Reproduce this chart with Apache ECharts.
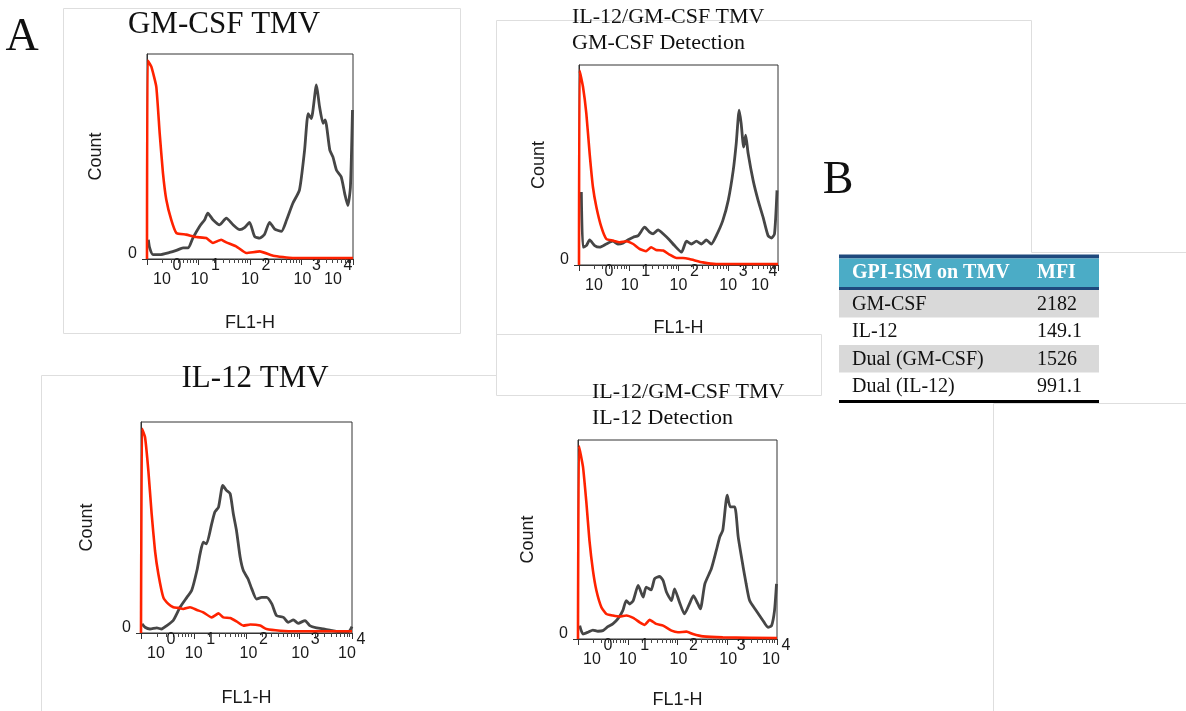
<!DOCTYPE html>
<html>
<head>
<meta charset="utf-8">
<script src="https://cdn.jsdelivr.net/npm/echarts@6/dist/echarts.min.js"></script>
<style>
html, body { margin: 0; padding: 0; background: #fff; }
#chart { width: 1186px; height: 711px; }
</style>
</head>
<body>
<div id="chart"></div>
<script>
// x = FL1-H in decades (log10), y = count as % of plot height
const gmCsfRed = [[0,0],[0.013,96.8],[0.084,93.8],[0.18,84.1],[0.246,61.4],[0.31,41.9],[0.375,28.9],[0.47,19.2],[0.57,12.7],[0.76,11.9],[0.96,10.7],[1.15,10.2],[1.28,7.8],[1.44,9.4],[1.54,8.1],[1.73,6.2],[1.93,2.9],[2.19,3.7],[2.45,1.6],[2.83,0.5],[4,0.5]]
const gmCsfGray = [[0.026,9.4],[0.052,5.4],[0.117,2.1],[0.246,2.1],[0.44,3.2],[0.57,4.2],[0.7,5.4],[0.8,5.4],[0.89,10.2],[1.02,15.9],[1.12,19.2],[1.18,22.4],[1.28,19.2],[1.41,16.7],[1.54,19.9],[1.67,16.7],[1.8,14.3],[1.9,15.4],[1.99,17.9],[2.09,11],[2.19,10.2],[2.28,11.9],[2.38,17.9],[2.48,14.6],[2.61,13.5],[2.71,19],[2.83,27.1],[2.96,33.6],[3.06,53.1],[3.13,70.9],[3.19,68.5],[3.29,84.9],[3.35,74.4],[3.42,66.2],[3.46,67.9],[3.55,53.1],[3.61,49.8],[3.68,43.3],[3.77,40.1],[3.84,31.8],[3.9,26.1],[3.95,35.1],[3.99,72.7]]

const dualGmRed = [[0,0],[0.013,97.2],[0.08,89.1],[0.147,75.8],[0.214,55.7],[0.28,39],[0.35,28.9],[0.45,18.9],[0.55,13],[0.68,12.2],[0.82,11.4],[0.95,11.9],[1.09,10.5],[1.22,8],[1.35,6.9],[1.45,8.9],[1.55,7.5],[1.69,7.2],[1.82,5.2],[1.96,3.5],[2.09,3.5],[2.22,3],[2.49,1.3],[2.76,0.5],[4,0.5]]
const dualGmGray = [[0.047,36.5],[0.08,8.9],[0.147,9.7],[0.214,12.5],[0.315,9.7],[0.415,8.9],[0.55,10.5],[0.68,11.9],[0.78,10.5],[0.88,10.9],[0.98,12.5],[1.09,13.9],[1.19,14.7],[1.32,18.9],[1.42,16.4],[1.49,15.6],[1.59,17.6],[1.69,15.6],[1.82,12.5],[1.92,9.7],[2.06,6.4],[2.16,11.9],[2.26,10.5],[2.36,11.9],[2.46,10.5],[2.56,12.5],[2.66,10.5],[2.76,14.7],[2.89,22.2],[3,32.3],[3.1,47.3],[3.16,60.7],[3.22,77.4],[3.26,70.7],[3.31,59],[3.35,64.9],[3.4,55.7],[3.5,42.3],[3.6,32.3],[3.7,23.9],[3.8,14.7],[3.87,13.5],[3.93,15.6],[3.98,37.3]]

const il12Red = [[0,0],[0.02,96.8],[0.076,92.9],[0.139,77.1],[0.202,56.5],[0.265,39.1],[0.329,28],[0.423,16.9],[0.518,13.8],[0.613,12.2],[0.708,11.9],[0.8,11.4],[0.93,12.2],[1.06,10.9],[1.18,9.8],[1.34,7.4],[1.47,9.3],[1.56,7.4],[1.69,7.1],[1.81,5.5],[1.94,3.5],[2.07,4],[2.26,3.5],[2.38,1.9],[2.64,1.1],[2.95,0.8],[4,0.8]]
const il12Gray = [[0.02,4.3],[0.076,2.7],[0.17,1.9],[0.3,2.4],[0.39,1.9],[0.49,3.5],[0.61,5.9],[0.74,12.2],[0.87,16.9],[0.96,20.1],[1.06,29.6],[1.12,37.5],[1.18,43],[1.24,42.2],[1.34,51.7],[1.4,57.3],[1.47,59.7],[1.55,69.9],[1.62,67.6],[1.69,66],[1.75,56.5],[1.81,48.6],[1.88,35.9],[1.94,29.6],[2.03,25.6],[2.1,20.9],[2.19,16.1],[2.29,16.9],[2.38,16.9],[2.48,13.8],[2.57,8.2],[2.7,7.4],[2.79,5.1],[2.89,6.2],[2.98,4.6],[3.11,5.9],[3.2,3.5],[3.33,2.4],[3.46,1.9],[3.58,1.4],[3.77,0.6],[3.93,0.6],[4,3]]

const dualIl12Red = [[0,0],[0.02,97],[0.1,86.6],[0.17,68.1],[0.23,49.6],[0.3,34.5],[0.37,24.4],[0.47,16],[0.57,12.6],[0.7,11.8],[0.84,11.3],[0.97,11.8],[1.11,10.6],[1.24,8.4],[1.34,7.1],[1.44,9.6],[1.57,7.6],[1.71,6.7],[1.88,4.2],[2.01,3.4],[2.18,3.7],[2.31,2.5],[2.51,1.3],[2.91,0.8],[4,0.5]]
const dualIl12Gray = [[0.034,6.7],[0.1,2.5],[0.2,3.4],[0.3,4.5],[0.4,3.9],[0.5,4.2],[0.6,6.2],[0.7,7.6],[0.8,10.1],[0.9,14.3],[0.97,19.3],[1.04,17.6],[1.11,19.3],[1.21,26.9],[1.31,21],[1.37,26.1],[1.47,24.7],[1.54,30.3],[1.64,31.4],[1.71,29.4],[1.78,23.5],[1.88,19.3],[1.94,25.2],[2.04,18.5],[2.14,12.6],[2.24,17.6],[2.32,21.8],[2.41,17.6],[2.46,15.1],[2.55,27.7],[2.68,35.3],[2.78,44.5],[2.85,51.3],[2.91,54.6],[3,72.3],[3.06,66.4],[3.15,66.4],[3.22,51.3],[3.32,36.1],[3.38,27.7],[3.45,19.3],[3.58,14.3],[3.72,9.2],[3.82,5.9],[3.89,6.7],[3.95,14.3],[3.99,27.7]]

// axis ticks: decades of FL1-H
const decades = [0, 1, 2, 3, 4]
const minorTicks = []
for (let d = 0; d < 4; d++) {
  for (let k = 2; k <= 9; k++) minorTicks.push(d + Math.log10(k))
}

// table B
const tableHeader = ['GPI-ISM on TMV', 'MFI']
const tableRows = ['GM-CSF', 'IL-12', 'Dual (GM-CSF)', 'Dual (IL-12)']
const mfiValues = [2182, 149.1, 1526, 991.1]

const SANS = '"Liberation Sans", Arial, sans-serif'
const SERIF = '"Liberation Serif", "Times New Roman", serif'
const INK = '#1a1a1a'

// bOff / eOff: horizontal shift (px) of the "10" and of the exponent from each decade tick
const panels = [
  { grid: { left: 147, top: 54, width: 206, height: 205 }, gray: gmCsfGray, red: gmCsfRed,
    countGap: 42, flGap: 55, lastRight: true, bOff: [15, 1, 0, 1, -20], eOff: [30, 17, 16, 15, -5] },
  { grid: { left: 579, top: 65, width: 199, height: 200 }, gray: dualGmGray, red: dualGmRed,
    countGap: 31, flGap: 54, lastRight: true, bOff: [15, 1, 0, 0, -18], eOff: [30, 17, 16, 15, -5] },
  { grid: { left: 141, top: 422, width: 211, height: 211 }, gray: il12Gray, red: il12Red,
    countGap: 45, flGap: 56, lastRight: false, bOff: [15, 0, 2, 1, -5], eOff: [30, 17, 17, 16, 9] },
  { grid: { left: 578, top: 440, width: 199, height: 199 }, gray: dualIl12Gray, red: dualIl12Red,
    countGap: 41, flGap: 52, lastRight: false, bOff: [14, 0, 1, 1, -6], eOff: [30, 17, 16, 14, 9] }
]

function centerPad(off) {
  return off >= 0 ? [0, 0, 0, 2 * off] : [0, -2 * off, 0, 0]
}

function baseRich(p) {
  const rich = {}
  decades.forEach((d, i) => {
    rich['b' + i] = { fontSize: 16, fontFamily: SANS, color: INK, lineHeight: 14, padding: centerPad(p.bOff[i]) }
  })
  return rich
}

function expRich(p) {
  const rich = {}
  decades.forEach((d, i) => {
    const last = i === decades.length - 1
    const padding = last && p.lastRight ? [0, Math.max(0, -p.eOff[i] - 4.5), 0, 0] : [0, 0, 0, Math.max(0, p.eOff[i] - 4.5)]
    rich['e' + i] = { fontSize: 16, fontFamily: SANS, color: INK, lineHeight: 14, padding }
  })
  return rich
}

const grids = []
const xAxes = []
const yAxes = []
const series = []

panels.forEach((p, i) => {
  grids.push({ ...p.grid, show: true, borderColor: '#333', borderWidth: 1, outerBoundsMode: 'none', containLabel: false })
  // main axis: line, decade ticks, "10" labels, name
  xAxes.push({
    type: 'value', gridIndex: i, min: 0, max: 4, position: 'bottom',
    axisLine: { lineStyle: { color: '#333', width: 1 } },
    axisTick: { customValues: decades, length: 6, lineStyle: { color: '#333' } },
    axisLabel: {
      customValues: decades, margin: 14, showMinLabel: true, showMaxLabel: true,
      formatter: v => '{b' + Math.round(v) + '|10}',
      rich: baseRich(p)
    },
    splitLine: { show: false },
    name: 'FL1-H', nameLocation: 'middle', nameGap: p.flGap,
    nameTextStyle: { fontFamily: SANS, fontSize: 18, color: INK }
  })
  // exponents of the decade labels
  xAxes.push({
    type: 'value', gridIndex: i, min: 0, max: 4, position: 'bottom',
    axisLine: { show: false }, axisTick: { show: false },
    axisLabel: {
      customValues: decades, margin: 0, align: 'left', showMinLabel: true, showMaxLabel: true,
      alignMaxLabel: p.lastRight ? 'right' : null,
      formatter: v => { const k = Math.round(v); return '{e' + k + '|' + k + '}' },
      rich: expRich(p)
    },
    splitLine: { show: false }
  })
  // minor ticks 2..9 of each decade
  xAxes.push({
    type: 'value', gridIndex: i, min: 0, max: 4, position: 'bottom',
    axisLine: { show: false },
    axisTick: { customValues: minorTicks, length: 4, lineStyle: { color: '#444' } },
    axisLabel: { show: false },
    splitLine: { show: false }
  })
  yAxes.push({
    type: 'value', gridIndex: i, min: 0, max: 100,
    axisLine: { show: true, lineStyle: { color: '#333', width: 1 } },
    axisTick: { show: true, customValues: [0], length: 5, lineStyle: { color: '#333' } },
    axisLabel: { customValues: [0], margin: 10, verticalAlign: 'bottom', lineHeight: 10, fontFamily: SANS, fontSize: 16, color: INK },
    splitLine: { show: false },
    name: 'Count', nameLocation: 'middle', nameGap: p.countGap,
    nameTextStyle: { fontFamily: SANS, fontSize: 18, color: INK }
  })
  series.push({
    type: 'line', xAxisIndex: 3 * i, yAxisIndex: i, data: p.gray, showSymbol: false, silent: true, smooth: 0.2,
    lineStyle: { color: '#464646', width: 2.8 }, itemStyle: { color: '#464646' }
  })
  series.push({
    type: 'line', xAxisIndex: 3 * i, yAxisIndex: i, data: p.red, showSymbol: false, silent: true, smooth: 0.15,
    lineStyle: { color: '#ff2200', width: 2.6 }, itemStyle: { color: '#ff2200' }
  })
})

function faint(x1, y1, x2, y2) {
  return { type: 'line', silent: true, z: -10, shape: { x1, y1, x2, y2 }, style: { stroke: '#dedede', lineWidth: 1 } }
}

function label(text, x, y, font, align) {
  return { type: 'text', silent: true, style: { text, x, y, font, fill: '#111', align: align || 'left', verticalAlign: 'middle' } }
}

const graphics = [
  // page frame lines of the original layout
  faint(63.5, 8.5, 460.5, 8.5), faint(63.5, 8.5, 63.5, 333.5), faint(460.5, 8.5, 460.5, 333.5), faint(63.5, 333.5, 460.5, 333.5),
  faint(496.5, 20.5, 1031.5, 20.5), faint(496.5, 20.5, 496.5, 395.5), faint(1031.5, 20.5, 1031.5, 252.5), faint(1031.5, 252.5, 1186, 252.5),
  faint(496.5, 334.5, 821.5, 334.5), faint(821.5, 334.5, 821.5, 395.5), faint(496.5, 395.5, 821.5, 395.5),
  faint(41.5, 375.5, 496.5, 375.5), faint(41.5, 375.5, 41.5, 711),
  faint(993.5, 403.5, 1186, 403.5), faint(993.5, 403.5, 993.5, 711),

  label('A', 22, 38, '46px ' + SERIF, 'center'),
  label('B', 838, 181, '46px ' + SERIF, 'center'),

  label('GM-CSF TMV', 224, 25, '31px ' + SERIF, 'center'),
  label('IL-12/GM-CSF TMV', 572, 17, '22px ' + SERIF),
  label('GM-CSF Detection', 572, 43, '22px ' + SERIF),
  label('IL-12 TMV', 255, 379, '31px ' + SERIF, 'center'),
  label('IL-12/GM-CSF TMV', 592, 392, '22px ' + SERIF),
  label('IL-12 Detection', 592, 418, '22px ' + SERIF)
]

// table B
const tx = 839, tw = 260, colX = [852, 1037], rowTop = 290, rowH = 27.5
graphics.push({ type: 'rect', silent: true, shape: { x: tx, y: 254.5, width: tw, height: 4 }, style: { fill: '#1f497d' } })
graphics.push({ type: 'rect', silent: true, shape: { x: tx, y: 258.5, width: tw, height: 28.5 }, style: { fill: '#4bacc6' } })
graphics.push({ type: 'rect', silent: true, shape: { x: tx, y: 287, width: tw, height: 3 }, style: { fill: '#1f497d' } })
tableHeader.forEach((h, j) => {
  graphics.push({ type: 'text', silent: true, style: { text: h, x: colX[j], y: 273, font: 'bold 20px ' + SERIF, fill: '#fff', verticalAlign: 'middle' } })
})
tableRows.forEach((r, j) => {
  const y = rowTop + j * rowH
  if (j % 2 === 0) {
    graphics.push({ type: 'rect', silent: true, shape: { x: tx, y, width: tw, height: rowH }, style: { fill: '#d9d9d9' } })
  }
  graphics.push(label(r, colX[0], y + rowH / 2 + 0.5, '20px ' + SERIF))
  graphics.push(label(String(mfiValues[j]), colX[1], y + rowH / 2 + 0.5, '20px ' + SERIF))
})
graphics.push({ type: 'rect', silent: true, shape: { x: tx, y: rowTop + 4 * rowH, width: tw, height: 3 }, style: { fill: '#000' } })

const chart = echarts.init(document.getElementById('chart'), null, { renderer: 'canvas' })
chart.setOption({
  animation: false,
  backgroundColor: '#fff',
  textStyle: { fontFamily: SANS },
  grid: grids,
  xAxis: xAxes,
  yAxis: yAxes,
  series,
  graphic: { elements: graphics }
})
window.addEventListener('resize', () => chart.resize())
</script>
</body>
</html>
